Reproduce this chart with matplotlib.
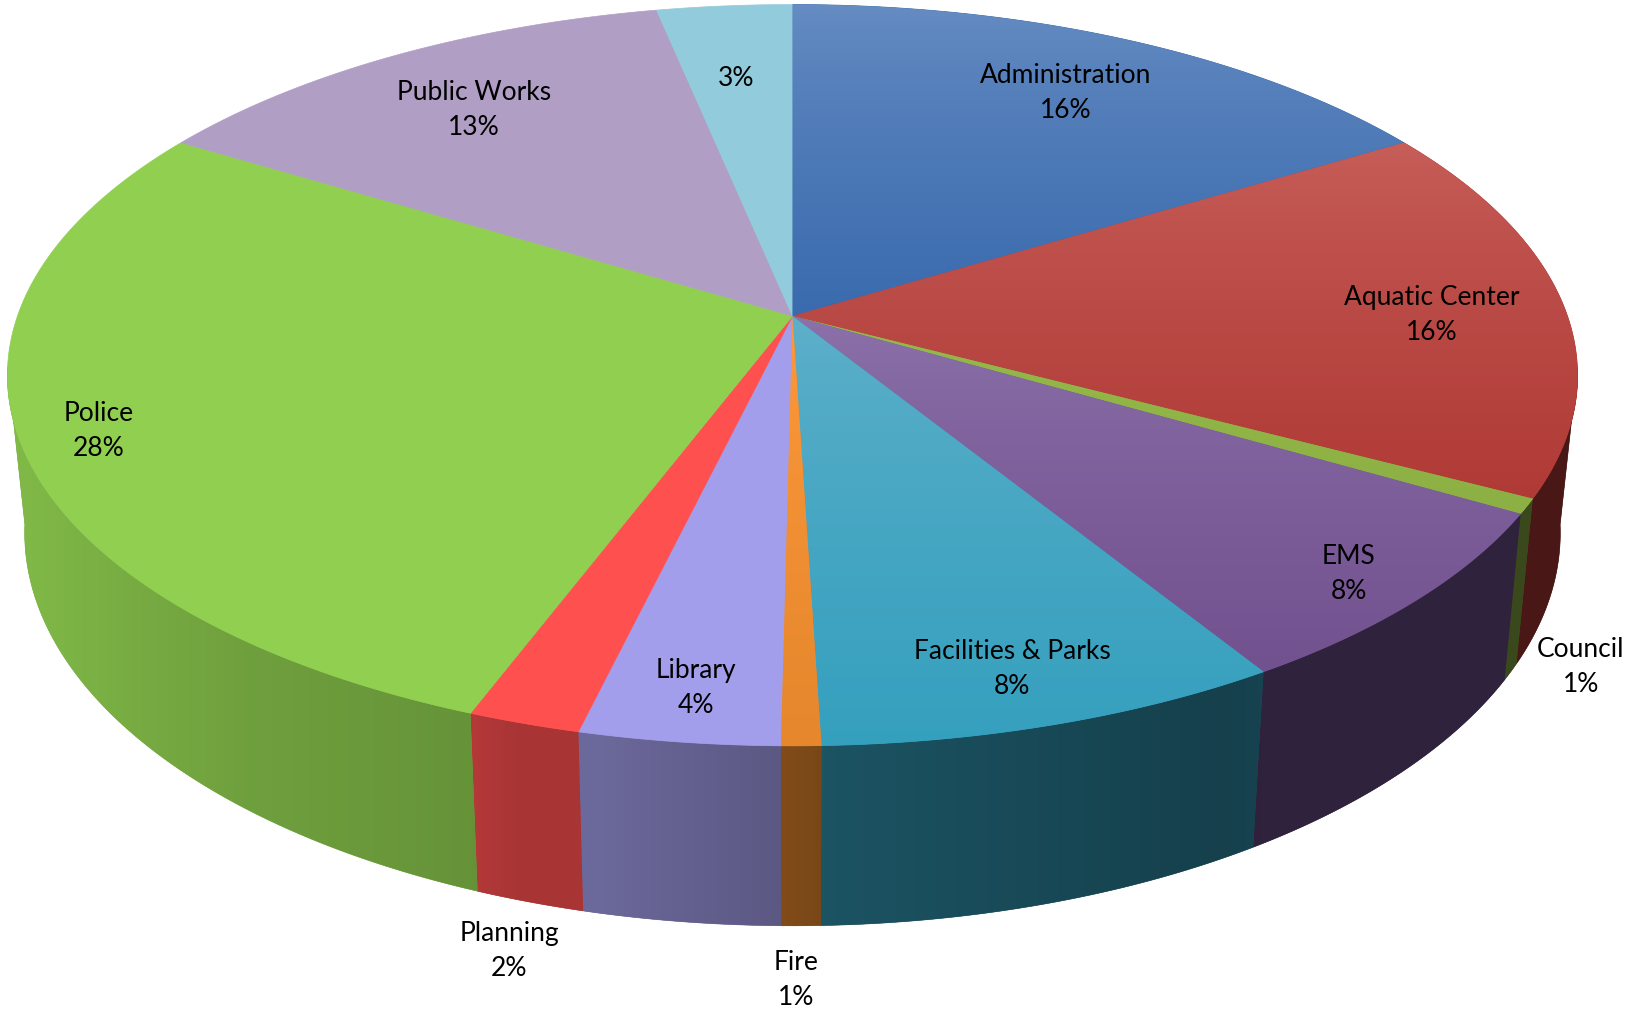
import numpy as np
import matplotlib
matplotlib.use("Agg")
import matplotlib.pyplot as plt
from matplotlib.colors import to_rgb, LinearSegmentedColormap

plt.rcParams['font.family'] = ['Lato', 'DejaVu Sans']

# Data
names = ["Administration", "Aquatic Center", "Council", "EMS", "Facilities & Parks", "Fire",
         "Library", "Planning", "Police", "Public Works", ""]
values = [16.3, 16.45, 0.65, 7.8, 8.3, 0.7, 3.55, 2.0, 27.95, 13.05, 3.25]

# top face colour at the far and near end of each slice
colors_far = ["#678dc3", "#c85f5a", "#96ba4b", "#8c72aa", "#5fb0ca", "#ff9a3c",
              "#a39eeb", "#ff5050", "#90cf50", "#b09ec5", "#92cbdb"]
colors_near = ["#3a6bae", "#b03a36", "#8cb043", "#72518f", "#35a0be", "#e6872d",
               "#a39eeb", "#ff5050", "#90cf50", "#b09ec5", "#92cbdb"]

# label centres in pixels
label_x = [1066, 1432, 1581, 1349, 1012, 796, 696, 509, 99, 474, 736]
label_y = [93, 315, 667, 574, 669, 980, 688, 951, 431, 110, 78]

# side wall darkening from left to right
shade_x = [0, 30, 150, 250, 470, 520, 600, 780, 830, 1220, 1262, 1627]
shade_value = [0.90, 0.89, 0.82, 0.77, 0.71, 0.66, 0.66, 0.56, 0.52, 0.40, 0.42, 0.42]

# perspective of the disc, in pixels
cx, cy = 792.5, 316
A, B, k = 775, 361.2, 0.1597
drop_scale_x, drop_scale_y, drop_offset = 0.978, 1.06, 135.2


def project_top(theta):
    den = 1 + k * np.cos(theta)
    return cx + A * np.sin(theta) / den, cy - B * np.cos(theta) / den


def project_bottom(theta):
    x, y = project_top(theta)
    return cx + drop_scale_x * (x - cx), drop_scale_y * y + drop_offset


fig = plt.figure(figsize=(16.27, 10.09), dpi=100)
ax = fig.add_axes([0, 0, 1, 1])
ax.set_xlim(0, 1627)
ax.set_ylim(1009, 0)
ax.axis("off")

edges = np.radians(np.cumsum([0] + values) * 3.6)
# only the part of the rim that faces the viewer has a wall
front_start, front_end = np.radians(98), np.radians(262)

# side walls, the top faces then cover what is hidden
for i in range(len(values)):
    a = max(edges[i], front_start)
    b = min(edges[i + 1], front_end)
    if b <= a:
        continue
    t = np.linspace(a, b, 120)
    xt, yt = project_top(t)
    xb, yb = project_bottom(t)
    px = np.r_[xt, xb[::-1]]
    py = np.r_[yt, yb[::-1]]
    base = np.array(to_rgb(colors_near[i]))
    mean_col = base * np.interp(px.mean(), shade_x, shade_value)
    poly = ax.fill(px, py, facecolor=mean_col, edgecolor=mean_col, linewidth=0.4, zorder=1)[0]
    xs = np.linspace(px.min(), px.max(), 256)
    grad = np.outer(np.interp(xs, shade_x, shade_value), base).reshape(1, 256, 3)
    im = ax.imshow(grad, aspect="auto", interpolation="bilinear",
                   extent=[px.min(), px.max(), py.max(), py.min()], zorder=1.5)
    im.set_clip_path(poly)

# top faces with a vertical gradient
for i in range(len(values)):
    n = max(2, int(np.degrees(edges[i + 1] - edges[i]) * 2) + 1)
    t = np.linspace(edges[i], edges[i + 1], n)
    x, y = project_top(t)
    px = np.r_[cx, x]
    py = np.r_[cy, y]
    mid_col = colors_near[i]
    poly = ax.fill(px, py, facecolor=mid_col, edgecolor=mid_col, linewidth=0.5, zorder=2)[0]
    if colors_far[i] != colors_near[i]:
        cmap = LinearSegmentedColormap.from_list("face", [colors_far[i], colors_near[i]])
        grad = (np.linspace(0, 1, 256) ** 0.75).reshape(-1, 1)
        im = ax.imshow(grad, cmap=cmap, vmin=0, vmax=1, aspect="auto", interpolation="bilinear",
                       extent=[px.min(), px.max(), py.max(), py.min()], zorder=3)
        im.set_clip_path(poly)

ax.set_xlim(0, 1627)
ax.set_ylim(1009, 0)

for name, value, lx, ly in zip(names, values, label_x, label_y):
    label = f"{name}\n{value:.0f}%" if name else f"{value:.0f}%"
    ax.text(lx, ly, label, ha="center", va="center", fontsize=19, color="black",
            linespacing=1.5, zorder=5)

fig.savefig("out.png", dpi=100)
